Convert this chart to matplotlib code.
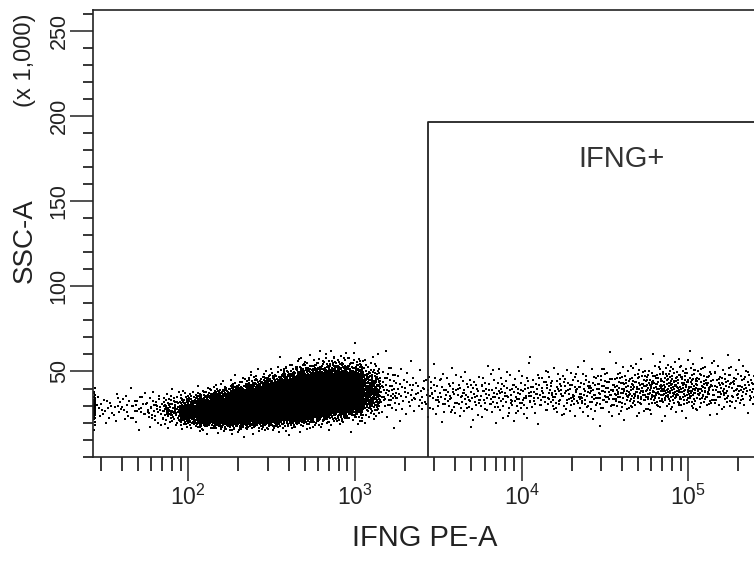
import math
import numpy as np
from matplotlib import pyplot as plt
from matplotlib.ticker import MultipleLocator, LogLocator

# IFNG PE-A (log10, bin centres, 0.1 decade wide) -> number of events,
# median SSC-A (x 1,000) and spread below / above the median
bin_log = [1.5, 1.6, 1.7, 1.8, 1.9, 2.0, 2.1, 2.2, 2.3, 2.4,
           2.5, 2.6, 2.7, 2.8, 2.9, 3.0, 3.1, 3.2, 3.3, 3.4,
           3.5, 3.6, 3.7, 3.8, 3.9, 4.0, 4.1, 4.2, 4.3, 4.4,
           4.5, 4.6, 4.7, 4.8, 4.9, 5.0, 5.1, 5.2, 5.3, 5.4]
counts = [16, 18, 22, 32, 70, 220, 500, 850, 1150, 1400,
          1600, 1750, 1800, 1700, 1400, 800, 220, 50, 28, 26,
          32, 35, 35, 36, 38, 40, 42, 42, 45, 48,
          52, 60, 72, 85, 92, 85, 68, 52, 45, 40]
ssc_med = [29, 29, 29, 28, 27.5, 26.5, 26.5, 27, 28, 29,
           30, 31.5, 33, 34.5, 36, 37, 38, 38, 38, 37,
           36, 36, 36, 36, 36, 36, 37, 37, 37, 37,
           38, 38, 39, 39.5, 40, 40, 40, 40, 40, 40]
ssc_lo = [5, 5, 5, 5, 4.5, 4, 4, 4.2, 4.5, 4.5,
          4.8, 5, 5.2, 5.5, 5.5, 6, 6.5, 6.5, 6.5, 6.5,
          6.5, 6.5, 6.5, 6.5, 6.5, 6.5, 6.5, 6.5, 6.5, 6.5,
          6.5, 6.5, 6.5, 6.5, 6.5, 6.5, 6.5, 6.5, 6.5, 6.5]
ssc_hi = [5, 5, 5, 5, 5, 5, 5, 5.5, 6, 6.5,
          7, 7.5, 8, 8, 8, 8, 8, 8, 8, 7.5,
          7.5, 7.5, 7.5, 7.5, 7.5, 7.5, 7.5, 7.5, 7.5, 7.5,
          7.5, 7.5, 7.5, 7.5, 7.5, 7.5, 7.5, 7.5, 7.5, 7.5]

# events piled up on the low end of the axis
pile_count = 45
pile_med = 29
pile_sd = 5

x_min = 10 ** 1.43
x_max = 262144
y_max = 262.144

gate_x = 2750
gate_y = 196.5
gate_name = 'IFNG+'


def halton(idx, base):
    # deterministic low discrepancy spread of events inside a bin
    r = np.zeros(len(idx))
    f = 1.0
    i = idx.copy()
    while np.any(i > 0):
        f /= base
        r += f * (i % base)
        i //= base
    return r


zgrid = np.linspace(-4, 4, 801)
cdf = np.array([0.5 * (1 + math.erf(z / math.sqrt(2))) for z in zgrid])


def spread(idx, med, lo, hi):
    u = np.clip(halton(idx, 3), 1e-4, 1 - 1e-4)
    z = np.interp(u, cdf, zgrid)
    return med + np.where(z < 0, z * lo, z * hi)


xs, ys = [], []
offset = 1
for c, n, m, lo, hi in zip(bin_log, counts, ssc_med, ssc_lo, ssc_hi):
    idx = np.arange(offset, offset + n)
    offset += n + 17
    xs.append(10 ** (c - 0.05 + 0.1 * halton(idx, 2)))
    ys.append(spread(idx, m, lo, hi))

idx = np.arange(offset, offset + pile_count)
xs.append(10 ** (1.431 + 0.012 * halton(idx, 2)))
ys.append(spread(idx, pile_med, pile_sd, pile_sd))

x = np.concatenate(xs)
y = np.concatenate(ys)

plt.rcParams['font.family'] = ['Liberation Sans', 'DejaVu Sans']

fig = plt.figure(figsize=(7.54, 5.62), dpi=100)
ax = fig.add_axes([93.3 / 754, 105.3 / 562, (758 - 93.3) / 754, (456.7 - 10) / 562])

ax.scatter(x, y, s=3.2, marker='s', c='black', linewidths=0)

# gate
ax.plot([gate_x, gate_x, x_max * 2], [0, gate_y, gate_y], color='#222222', lw=1.3)
ax.text(10 ** 4.6, 174.5, gate_name, ha='center', va='center', fontsize=21,
        color='#333333')

ax.set_xscale('log')
ax.set_xlim(x_min, x_max)
ax.set_ylim(0, y_max)

ax.xaxis.set_major_locator(LogLocator(base=10, numticks=10))
ax.xaxis.set_minor_locator(LogLocator(base=10, subs=np.arange(2, 10), numticks=20))
ax.yaxis.set_major_locator(MultipleLocator(50))
ax.yaxis.set_minor_locator(MultipleLocator(10))

for sp in ['left', 'top', 'bottom']:
    ax.spines[sp].set_linewidth(1.2)
    ax.spines[sp].set_color('#222222')
ax.spines['right'].set_visible(False)

ax.tick_params(axis='x', which='major', direction='out', length=17, width=1.1,
               pad=3, labelsize=16.5, colors='#222222')
ax.tick_params(axis='x', which='minor', direction='out', length=10, width=1.1)
ax.tick_params(axis='y', which='major', direction='out', length=16.5, width=1.1,
               pad=0.5, labelsize=15.5, labelrotation=90, colors='#222222')
ax.tick_params(axis='y', which='minor', direction='out', length=7.5, width=1.1)
ax.set_yticks([50, 100, 150, 200, 250])
for lbl in ax.get_yticklabels():
    lbl.set_va('center')

fig.text(425 / 754, 1 - 538.5 / 562, 'IFNG PE-A', ha='center', va='center',
         fontsize=21, color='#222222')
fig.text(25 / 754, 1 - 241 / 562, 'SSC-A', ha='center', va='center', rotation=90,
         fontsize=20, color='#222222')
fig.text(25 / 754, 1 - 60 / 562, '(x 1,000)', ha='center', va='center', rotation=90,
         fontsize=17, color='#222222')

fig.savefig('out.png', dpi=100)
